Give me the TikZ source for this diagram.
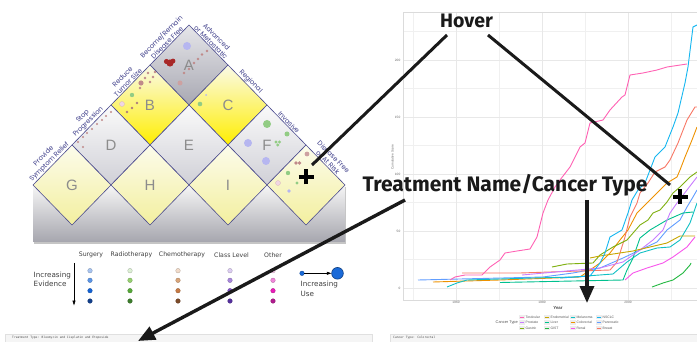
\documentclass[tikz,border=0pt]{standalone}
\usepackage{fontspec}
\setmainfont{Liberation Sans}
\newfontfamily\djv{DejaVu Sans}
\newfontfamily\fira{Fira Sans}
\newfontfamily\popp{Poppins}
\newfontfamily\monof{DejaVu Sans Mono}
\usetikzlibrary{arrows.meta,shadows}
\definecolor{edgecol}{HTML}{4A4A8E}
\definecolor{lblcol}{HTML}{3E3E8A}
\definecolor{lettercol}{HTML}{8C8C8C}
\definecolor{aTop}{HTML}{E6E6EA}\definecolor{aBot}{HTML}{A8A8B2}
\definecolor{yTop}{HTML}{FAFAE8}\definecolor{yMid}{HTML}{FAF7B8}\definecolor{yBot}{HTML}{FFEE00}
\definecolor{gTop}{HTML}{FAFAFA}\definecolor{gBot}{HTML}{D0D0D7}
\definecolor{pTop}{HTML}{FCFCEC}\definecolor{pBot}{HTML}{F3EF9E}
\definecolor{rTop}{HTML}{F6F6F6}\definecolor{rBot}{HTML}{A6A6AE}
\definecolor{lav}{HTML}{B6B6F0}\definecolor{dred}{HTML}{A82828}
\definecolor{sdot}{HTML}{C08A8A}\definecolor{pgreen}{HTML}{92CC84}
\definecolor{ppink}{HTML}{F0D6E2}
% legend
\definecolor{s1}{HTML}{A8C4F0}\definecolor{s2}{HTML}{5A94E6}\definecolor{s3}{HTML}{1462D4}\definecolor{s4}{HTML}{12408C}
\definecolor{r1}{HTML}{DDF0D5}\definecolor{r2}{HTML}{96D070}\definecolor{r3}{HTML}{56A838}\definecolor{r4}{HTML}{3D7D2D}
\definecolor{c1}{HTML}{F2DCCB}\definecolor{c2}{HTML}{D9A57A}\definecolor{c3}{HTML}{C67A45}\definecolor{c4}{HTML}{7D4C2A}
\definecolor{k1}{HTML}{DCCDF2}\definecolor{k2}{HTML}{A887DC}\definecolor{k3}{HTML}{8150C8}\definecolor{k4}{HTML}{55309E}
\definecolor{o1}{HTML}{F8CDEB}\definecolor{o2}{HTML}{F086DA}\definecolor{o3}{HTML}{E81CB8}\definecolor{o4}{HTML}{B01A8E}
\definecolor{useblue}{HTML}{1A6AD8}
% chart
\definecolor{Testicular}{HTML}{FF62B4}\definecolor{Prostate}{HTML}{C97DFF}\definecolor{Gastric}{HTML}{7FB010}
\definecolor{Endometrial}{HTML}{C8A600}\definecolor{Liver}{HTML}{00C08E}\definecolor{GIST}{HTML}{22B840}
\definecolor{Melanoma}{HTML}{10C0C4}\definecolor{Colorectal}{HTML}{EE9200}\definecolor{Renal}{HTML}{F856EC}
\definecolor{NSCLC}{HTML}{14B6F0}\definecolor{Pancreatic}{HTML}{619EFF}\definecolor{Breast}{HTML}{F87866}
\definecolor{ink}{HTML}{1A1A1A}
\tikzset{
  diam/.style={draw=edgecol,line width=0.6pt},
  letter/.style={font=\fontsize{15}{15}\selectfont, text=lettercol, inner sep=0pt},
  edgelab/.style={font=\popp\fontsize{6.7}{7.9}\selectfont, text=lblcol, align=center, inner sep=0.8pt, anchor=south},
  colhead/.style={font=\djv\fontsize{6.2}{7}\selectfont, text=black!75, inner sep=0pt},
  incr/.style={font=\djv\fontsize{7.2}{9.5}\selectfont, text=black!75, align=left, inner sep=0pt},
  ldot/.style={line width=0.3pt},
  grid/.style={draw=black!6, line width=0.4pt},
  gridmaj/.style={draw=black!9, line width=0.5pt},
  tick/.style={font=\fontsize{3.2}{3.5}\selectfont, text=black!60, inner sep=0.5pt},
  series/.style={line width=0.9pt, line join=round},
  ctlab/.style={font=\fontsize{3.4}{3.6}\selectfont, text=black!65, inner sep=0pt, anchor=west},
  bigtext/.style={font=\fira\bfseries\fontsize{19.5}{20}\selectfont, text=ink, inner sep=0pt, anchor=base},
  hoverline/.style={draw=ink, line width=3pt},
  bigarrow/.style={draw=ink, line width=3.4pt, -{Triangle[length=17pt,width=14pt]}},
  plusmark/.style={draw=black, line width=3.8pt},
  strip/.style={fill=black!4, draw=black!12, line width=0.4pt},
  striptext/.style={font=\monof\fontsize{3}{3}\selectfont, text=black!70, inner sep=0pt, anchor=west}
}
\newcommand\drawdiam[4]{\path[diam, top color=#3, bottom color=#4] (#1,#2-40) -- (#1+39,#2) -- (#1,#2+40) -- (#1-39,#2) -- cycle;}
\newcommand\drawydiam[2]{\path[diam, top color=yTop, middle color=yMid, bottom color=yBot] (#1,#2-40) -- (#1+39,#2) -- (#1,#2+40) -- (#1-39,#2) -- cycle;}
\begin{document}
\begin{tikzpicture}[x=1pt,y=-1pt]
\useasboundingbox (0,0) rectangle (697,342);
\fill[white] (0,0) rectangle (697,342);

% ===== pyramid =====
\path[top color=rTop, bottom color=rBot, drop shadow={opacity=0.45, shadow xshift=1.2pt, shadow yshift=-1.6pt}] (33,185) rectangle (345,242);
\drawdiam{189}{65}{aTop}{aBot}
\drawydiam{150}{105}
\drawydiam{228}{105}
\drawdiam{111}{145}{gTop}{gBot}
\drawdiam{189}{145}{gTop}{gBot}
\drawdiam{267}{145}{gTop}{gBot}
\drawdiam{72}{185}{pTop}{pBot}
\drawdiam{150}{185}{pTop}{pBot}
\drawdiam{228}{185}{pTop}{pBot}
\drawdiam{306}{185}{pTop}{pBot}

\node[letter] (lA) at (189,65) {A};
\node[letter] (lB) at (150,105) {B};
\node[letter] (lC) at (228,105) {C};
\node[letter] (lD) at (111,145) {D};
\node[letter] (lE) at (189,145) {E};
\node[letter] (lF) at (267,145) {F};
\node[letter] (lG) at (72,185) {G};
\node[letter] (lH) at (150,185) {H};
\node[letter] (lI) at (228,185) {I};

\node[edgelab, rotate=45] (eG) at (52.5,165) {Provide\\Symptom Relief};
\node[edgelab, rotate=45] (eD) at (91.5,125) {Stop\\Progression};
\node[edgelab, rotate=45] (eB) at (130.5,85) {Reduce\\Tumor Size};
\node[edgelab, rotate=45] (eA) at (169.5,45) {Become/Remain\\Disease Free};
\node[edgelab, rotate=-45] (eA2) at (208.5,45) {Advanced\\or Metastatic};
\node[edgelab, rotate=-45] (eC) at (247.5,85) {Regional};
\node[edgelab, rotate=-45] (eF) at (286.5,125) {Invasive};
\node[edgelab, rotate=-45] (eJ) at (325.5,165) {Disease Free\\or At Risk};

% dots in A
\fill[lav] (187,46) circle (4);
\fill[dred] (170,63) circle (3.6); \fill[dred] (166.5,61.5) circle (2.6); \fill[dred] (173,61) circle (2.4);
\foreach \p in {(207,51),(202,54.5),(198,59),(194,63),(189,69),(184,73)} \fill[sdot] \p circle (1.3);
\fill[sdot!80] (180,83) circle (2.5);
% dots in B
\fill[sdot] (141,83) circle (2.6);
\foreach \p in {(148,73),(153,77),(145,78),(150,82),(140,88),(155,72)} \fill[sdot] \p circle (1.3);
\fill[pgreen] (132,95) circle (2.2);
\filldraw[fill=ppink, draw=sdot!60, line width=0.3pt] (122,104) circle (2.5);
\foreach \p in {(137,103),(132,108),(127,112)} \fill[sdot!90!black] \p circle (1.4);
% dots in C
\fill[pgreen] (200,104) circle (2.3);
\fill[lav] (206,95) circle (1);
% dots in D
\foreach \p in {(111,112),(106,116),(102,120),(97,124),(92,129),(87,133),(83,137),(78,142),(83,147)} \fill[sdot] \p circle (1.2);
% dots in F
\fill[pgreen] (267,124) circle (4);
\fill[pgreen] (287,134) circle (2.5);
\fill[lav] (248,143) circle (4);
\fill[pgreen] (276,142) circle (1.6); \fill[pgreen] (279.5,142) circle (1.6); \fill[pgreen] (277.7,145) circle (1.6);
\fill[lav] (266,161) circle (4);
% dots in J
\fill[sdot!80] (307,154) circle (2.4);
\fill[sdot] (296,163) circle (1.8); \fill[sdot] (299.5,163) circle (1.8);
\fill[pgreen] (288,173) circle (2.2);
\filldraw[fill=ppink, draw=sdot!60, line width=0.3pt] (278,183) circle (2.5);
\fill[pgreen] (297,183) circle (1.6);
\fill[lav] (289,191) circle (1.8);

% ===== legend =====
\node[colhead] (hS) at (91,255) {Surgery};
\node[colhead] (hR) at (131.5,255) {Radiotherapy};
\node[colhead] (hC) at (182,255) {Chemotherapy};
\node[colhead] (hK) at (231.5,255) {Class Level};
\node[colhead] (hO) at (273,255) {Other};
\foreach \col/\x in {s/90,r/130,c/178,k/230,o/273}{
  \foreach \i/\y in {1/270.7,2/280.3,3/290.7,4/301}{
    \filldraw[ldot, fill=\col\i, draw=\col\i!75!black] (\x,\y) circle (2.3);
  }
}
\node[incr, anchor=west] (ev) at (33.5,279.5) {Increasing\\Evidence};
\coordinate (evA) at (74,263);
\coordinate (evB) at (74,305.5);
\draw[black, line width=0.6pt, -{Triangle[length=5pt,width=3pt]}] (evA) -- (evB);
\node[circle, fill=useblue, draw=useblue!70!black, line width=0.3pt, minimum size=4.6pt, inner sep=0pt] (us) at (302,273.3) {};
\node[circle, fill=useblue, draw=useblue!60!black, line width=0.6pt, minimum size=11.7pt, inner sep=0pt] (ub) at (337.5,273.3) {};
\draw[black, line width=0.6pt, -{Triangle[length=4.5pt,width=3pt]}] (us) -- (ub);
\node[incr, anchor=north west] (use) at (300.5,281) {Increasing\\Use};

% ===== chart =====
\foreach \x in {413,499,585,671} \draw[grid] (\x,12) -- (\x,300);
\foreach \y in {259.5,202.5,145.5,88.5,31.5} \draw[grid] (403,\y) -- (697,\y);
\foreach \x in {456,542,628} \draw[gridmaj] (\x,12) -- (\x,300);
\foreach \y in {288,231,174,117,60} \draw[gridmaj] (403,\y) -- (697,\y);
\draw[black!14, line width=0.5pt] (697,12) -- (403,12) -- (403,300) -- (697,300);
\node[tick, anchor=east] (t0) at (401,288) {0};
\node[tick, anchor=east] (t50) at (401,231) {50};
\node[tick, anchor=east] (t100) at (401,174) {100};
\node[tick, anchor=east] (t150) at (401,117) {150};
\node[tick, anchor=east] (t200) at (401,60) {200};
\node[tick, anchor=north] (y1960) at (456,301) {1960};
\node[tick, anchor=north] (y1980) at (542,301) {1980};
\node[tick, anchor=north] (y2000) at (628,301) {2000};
\node[font=\bfseries\fontsize{4.4}{4.4}\selectfont, text=black!70, inner sep=0pt] (year) at (558,308.5) {Year};
\node[tick, rotate=90] (ylab) at (392.5,157) {Cumulative Score};

\draw[series, Pancreatic] (418,280) -- (460,279) -- (543,277) -- (573,273) -- (600,268) -- (623,258) -- (640,250) -- (657,242) -- (667,230) -- (680,220) -- (687,207) -- (693,197) -- (697,190);
\draw[series, Colorectal] (433,282) -- (500,280) -- (580,277) -- (600,263) -- (610,253) -- (620,240) -- (628,230) -- (637,213) -- (647,203) -- (657,193) -- (667,183) -- (677,177) -- (680,170) -- (685,157) -- (692,140) -- (697,127);
\draw[series, Melanoma] (447,287) -- (457,283) -- (467,280) -- (533,278) -- (573,277) -- (613,274) -- (627,262) -- (640,253) -- (657,248) -- (670,247) -- (680,240) -- (690,223) -- (697,203);
\draw[series, Liver] (500,282.5) -- (623,280) -- (627,270) -- (633,258) -- (640,238) -- (650,230) -- (667,220) -- (683,213) -- (693,212);
\draw[series, Breast] (462,273) -- (520,273) -- (610,270) -- (617,262) -- (620,253) -- (625,237) -- (630,217) -- (637,203) -- (640,193) -- (648,183) -- (655,172) -- (665,167) -- (670,160) -- (678,143) -- (687,120) -- (695,107) -- (697,107);
\draw[series, Prostate] (522,275) -- (600,268) -- (623,262) -- (640,250) -- (653,240) -- (663,230) -- (670,213) -- (677,203) -- (687,190) -- (697,177);
\draw[series, Gastric] (552,267) -- (567,264) -- (593,263) -- (600,255) -- (613,247) -- (627,240) -- (640,225) -- (648,220) -- (653,213) -- (660,210) -- (667,202) -- (673,193) -- (680,187) -- (690,177) -- (697,172);
\draw[series, Endometrial] (590,258) -- (600,256) -- (633,251) -- (667,243) -- (680,236) -- (695,236);
\draw[series, Renal] (625,280) -- (633,273) -- (647,268) -- (663,263) -- (673,257) -- (687,247) -- (695,237);
\draw[series, GIST] (652,287) -- (663,283) -- (673,280) -- (683,273) -- (690,265) -- (691,263);
\draw[series, NSCLC] (560,278) -- (590,276) -- (600,263) -- (605,253) -- (610,237) -- (622,230) -- (628,213) -- (632,200) -- (638,190) -- (645,183) -- (650,170) -- (655,157) -- (665,147) -- (673,127) -- (678,113) -- (685,83) -- (688,67) -- (693,27) -- (697,25);
\draw[series, Testicular] (450,280) -- (455,277) -- (465,275) -- (482,275) -- (490,267) -- (500,260) -- (505,253) -- (517,251) -- (530,249) -- (537,237) -- (543,213) -- (548,200) -- (555,187) -- (560,180) -- (570,167) -- (580,147) -- (585,143) -- (590,123) -- (603,120) -- (610,110) -- (622,97) -- (625,95) -- (630,75) -- (643,73) -- (657,70) -- (667,67) -- (687,64);

% chart legend
\node[ctlab, anchor=east, font=\fontsize{3.9}{4}\selectfont] (ctt) at (518,323) {Cancer Type};
\foreach \nm/\x/\y in {Testicular/522/317, Prostate/522/322.5, Gastric/522/328,
  Endometrial/547/317, Liver/547/322.5, GIST/547/328,
  Melanoma/573/317, Colorectal/573/322.5, Renal/573/328,
  NSCLC/599/317, Pancreatic/599/322.5, Breast/599/328}{
  \fill[black!7] (\x-2.6,\y-2.3) rectangle (\x+2.6,\y+2.3);
  \draw[\nm, line width=0.8pt] (\x-2.2,\y) -- (\x+2.2,\y);
  \node[ctlab] at (\x+3.4,\y) {\nm};
}

% bottom strips
\path[strip] (5,334) rectangle (372,346);
\node[striptext] (tt) at (12,337.5) {Treatment Type: Bleomycin and Cisplatin and Etoposide};
\path[strip] (390,334) rectangle (700,346);
\node[striptext] (ct) at (393,337.5) {Cancer Type: Colorectal};

% ===== annotations =====
\node[bigtext] (hover) at (466.5,28) {Hover};
\node[bigtext, font=\fira\bfseries\fontsize{21}{21}\selectfont] (tnct) at (505,192) {Treatment Name/Cancer Type};
\coordinate (hL) at (447,35);
\coordinate (hLe) at (312,165);
\coordinate (hR) at (488,35);
\coordinate (hRe) at (670,185);
\draw[hoverline] (hL) -- (hLe);
\draw[hoverline] (hR) -- (hRe);
\coordinate (tA) at (405,200);
\coordinate (tB) at (138,341);
\draw[bigarrow] (tA) -- (tB);
\coordinate (dA) at (587,200);
\coordinate (dB) at (587,303);
\draw[bigarrow] (dA) -- (dB);
\coordinate (p1) at (306,177);
\coordinate (p2) at (680,197);
\draw[plusmark] ([xshift=-7.5pt]p1) -- ([xshift=7.5pt]p1);
\draw[plusmark] ([yshift=-7.5pt]p1) -- ([yshift=7.5pt]p1);
\draw[plusmark] ([xshift=-7.5pt]p2) -- ([xshift=7.5pt]p2);
\draw[plusmark] ([yshift=-7.5pt]p2) -- ([yshift=7.5pt]p2);
\end{tikzpicture}
\end{document}
